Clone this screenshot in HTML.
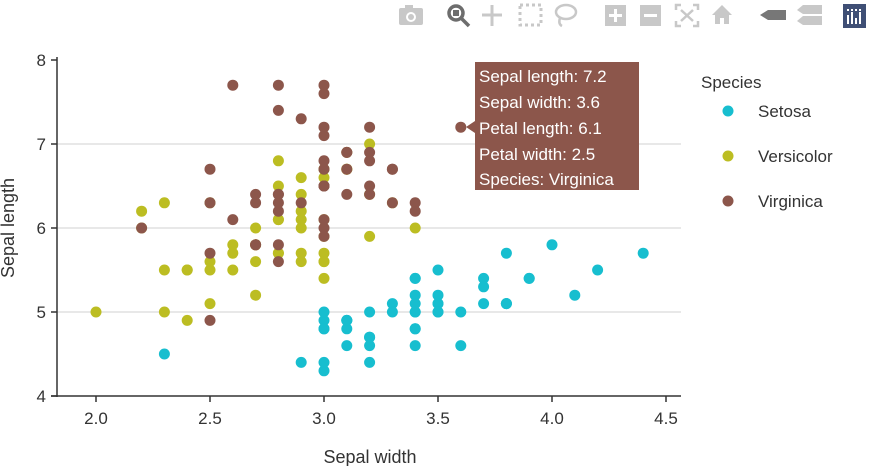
<!DOCTYPE html>
<html><head><meta charset="utf-8"><style>
body{margin:0;background:#fff;font-family:"Liberation Sans",Arial,sans-serif;}
svg text{font-family:"Liberation Sans",Arial,sans-serif;}
</style></head><body>
<svg id="chart" width="871" height="466" xmlns="http://www.w3.org/2000/svg">
<g id="toolbar" fill="#c8c8c8">
 <g><rect x="399" y="8" width="24" height="17" rx="2"/><rect x="405" y="5" width="8" height="4"/><circle cx="411" cy="17" r="5" fill="#fff"/><circle cx="411" cy="17" r="3"/></g>
 <g><circle cx="456" cy="13" r="7" fill="none" stroke="#6d6d6d" stroke-width="3.5"/><rect x="453" y="10" width="6" height="6" fill="#6d6d6d"/><line x1="461" y1="18" x2="469" y2="26" stroke="#6d6d6d" stroke-width="3.5"/></g>
 <g stroke="#c8c8c8" stroke-width="3"><line x1="482" y1="15" x2="502" y2="15"/><line x1="492" y1="5" x2="492" y2="26"/></g>
 <g><rect x="520" y="5" width="21" height="20" fill="none" stroke="#c8c8c8" stroke-width="3" stroke-dasharray="3,3"/></g>
 <g><ellipse cx="566" cy="12" rx="10" ry="7" fill="none" stroke="#c8c8c8" stroke-width="2.5"/><path d="M560 18 q-2 6 2 8" fill="none" stroke="#c8c8c8" stroke-width="2.5"/></g>
 <g><rect x="605" y="5" width="21" height="21"/><rect x="609" y="14" width="13" height="3" fill="#fff"/><rect x="614" y="9" width="3" height="13" fill="#fff"/></g>
 <g><rect x="640" y="5" width="21" height="21"/><rect x="644" y="14" width="13" height="3" fill="#fff"/></g>
 <g stroke="#c8c8c8" stroke-width="2.5" fill="none"><path d="M676 10v-5h5M693 5h5v5M698 21v5h-5M681 26h-5v-5M681 10l12 11M693 10l-12 11"/></g>
 <g><path d="M712 15l10-10 10 10h-3v9h-5v-6h-4v6h-5v-9z"/></g>
 <g><path d="M760 15l8-5h18v10h-18z" fill="#777"/></g>
 <g><path d="M797 10l6-5h19v9h-19z"/><path d="M797 21l6-5h19v9h-19z"/></g>
 <g><rect x="843" y="4" width="23" height="24" fill="#3f4f75"/><g fill="#fff"><rect x="847" y="15" width="2" height="9"/><rect x="851" y="12" width="2" height="12"/><rect x="855" y="18" width="2" height="6"/><rect x="859" y="12" width="2" height="12"/><rect x="847" y="9" width="2" height="2"/><rect x="851" y="9" width="2" height="2"/><rect x="855" y="9" width="2" height="2"/><rect x="859" y="9" width="2" height="2"/></g></g>
</g>
<g id="grid"></g>
<g id="axes"></g>
<g id="points"></g>
<g id="legend"></g>
<g id="tooltip">
 <path d="M475 62h164v128h-164v-57l-9 -6 9 -6z" fill="#8c564b"/>
 <g fill="#fff" font-size="17">
  <text x="479" y="82">Sepal length: 7.2</text>
  <text x="479" y="108">Sepal width: 3.6</text>
  <text x="479" y="134">Petal length: 6.1</text>
  <text x="479" y="160">Petal width: 2.5</text>
  <text x="479" y="185">Species: Virginica</text>
 </g>
</g>
</svg>
<script>
const NS="http://www.w3.org/2000/svg";
const xTicks=[2.0,2.5,3.0,3.5,4.0,4.5];
const yTicks=[4,5,6,7,8];
const speciesNames=["Setosa","Versicolor","Virginica"];
const speciesColors=["#17becf","#bcbd22","#8c564b"];
const setosaW=[3.5,3.0,3.2,3.1,3.6,3.9,3.4,3.4,2.9,3.1,3.7,3.4,3.0,3.0,4.0,4.4,3.9,3.5,3.8,3.8,3.4,3.7,3.6,3.3,3.4,3.0,3.4,3.5,3.4,3.2,3.1,3.4,4.1,4.2,3.1,3.2,3.5,3.1,3.0,3.4,3.5,2.3,3.2,3.5,3.8,3.0,3.8,3.2,3.7,3.3];
const setosaL=[5.1,4.9,4.7,4.6,5.0,5.4,4.6,5.0,4.4,4.9,5.4,4.8,4.8,4.3,5.8,5.7,5.4,5.1,5.7,5.1,5.4,5.1,4.6,5.1,4.8,5.0,5.0,5.2,5.2,4.7,4.8,5.4,5.2,5.5,4.9,5.0,5.5,4.9,4.4,5.1,5.0,4.5,4.4,5.0,5.1,4.8,5.1,4.6,5.3,5.0];
const versiW=[3.2,3.2,3.1,2.3,2.8,2.8,3.3,2.4,2.9,2.7,2.0,3.0,2.2,2.9,2.9,3.1,3.0,2.7,2.2,2.5,3.2,2.8,2.5,2.8,2.9,3.0,2.8,3.0,2.9,2.6,2.4,2.4,2.7,2.7,3.0,3.4,3.1,2.3,3.0,2.5,2.6,3.0,2.6,2.3,2.7,3.0,2.9,2.9,2.5,2.8];
const versiL=[7.0,6.4,6.9,5.5,6.5,5.7,6.3,4.9,6.6,5.2,5.0,5.9,6.0,6.1,5.6,6.7,5.6,5.8,6.2,5.6,5.9,6.1,6.3,6.1,6.4,6.6,6.8,6.7,6.0,5.7,5.5,5.5,5.8,6.0,5.4,6.0,6.7,6.3,5.6,5.5,5.5,6.1,5.8,5.0,5.6,5.7,5.7,6.2,5.1,5.7];
const virgW=[3.3,2.7,3.0,2.9,3.0,3.0,2.5,2.9,2.5,3.6,3.2,2.7,3.0,2.5,2.8,3.2,3.0,2.6,2.2,3.2,2.8,2.8,2.7,3.3,3.2,2.8,3.0,2.8,3.0,2.8,2.8,2.8,2.6,3.0,3.4,3.1,3.0,3.1,3.1,3.1,2.7,3.2,3.3,3.0,2.5,3.0,3.4,3.0];
const virgL=[6.3,5.8,7.1,6.3,6.5,7.6,4.9,7.3,6.7,7.2,6.5,6.4,6.8,5.7,5.8,6.4,6.5,7.7,6.0,6.9,5.6,7.7,6.3,6.7,7.2,6.2,6.1,6.4,7.2,7.4,6.4,6.3,6.1,7.7,6.3,6.4,6.0,6.9,6.7,6.9,5.8,6.8,6.7,6.7,6.3,6.5,6.2,5.9];
const seriesW=[setosaW,versiW,virgW];
const seriesL=[setosaL,versiL,virgL];

const X=v=>96+(v-2.0)*228;
const Y=v=>396-(v-4)*84;
function mk(tag,attrs,parent){const e=document.createElementNS(NS,tag);for(const k in attrs)e.setAttribute(k,attrs[k]);parent.appendChild(e);return e;}
const grid=document.getElementById('grid'),axes=document.getElementById('axes'),pts=document.getElementById('points'),leg=document.getElementById('legend');
yTicks.forEach(t=>{
 if(t>4&&t<8){const g=mk('line',{x1:57,x2:681,y1:Y(t),y2:Y(t),stroke:'#d0d0d0','stroke-width':1},grid);
 
 }
 const tk=mk('line',{x1:51,x2:57,y1:Y(t),y2:Y(t),stroke:'#333','stroke-width':1.5},axes);
 
 
 const tx=mk('text',{x:46,y:Y(t)+6,'text-anchor':'end','font-size':17,fill:'#333'},axes);tx.textContent=t;
 
 
});
xTicks.forEach(t=>{
 const tk=mk('line',{x1:X(t),x2:X(t),y1:396,y2:402,stroke:'#333','stroke-width':1.5},axes);
 
 
 const tx=mk('text',{x:X(t),y:424,'text-anchor':'middle','font-size':17,fill:'#333'},axes);tx.textContent=t.toFixed(1);
 
 
});
const ya=mk('line',{x1:57,x2:57,y1:57,y2:397,stroke:'#333','stroke-width':1.5},axes);


const xa=mk('line',{x1:51,x2:681,y1:396,y2:396,stroke:'#333','stroke-width':1.5},axes);


const xt=mk('text',{x:370,y:463,'text-anchor':'middle','font-size':18,fill:'#333'},axes);xt.textContent='Sepal width';


const yt=mk('text',{x:0,y:0,'text-anchor':'middle','font-size':18,fill:'#333',transform:'translate(14,228) rotate(-90)'},axes);yt.textContent='Sepal length';


seriesW.forEach((ws,s)=>{ws.forEach((w,i)=>{
 const c=mk('circle',{cx:X(w),cy:Y(seriesL[s][i]),r:5.5,fill:speciesColors[s]},pts);
 
 
});});
const lt=mk('text',{x:701,y:88,'font-size':17,fill:'#333'},leg);lt.textContent='Species';


speciesNames.forEach((n,s)=>{
 const y=111+s*45;
 const g=mk('g',{},leg);
 
 
 mk('circle',{cx:728,cy:y,r:5.5,fill:speciesColors[s]},g);
 const t=mk('text',{x:758,y:y+6,'font-size':17,fill:'#333'},g);t.textContent=n;
});
</script>
</body></html>
